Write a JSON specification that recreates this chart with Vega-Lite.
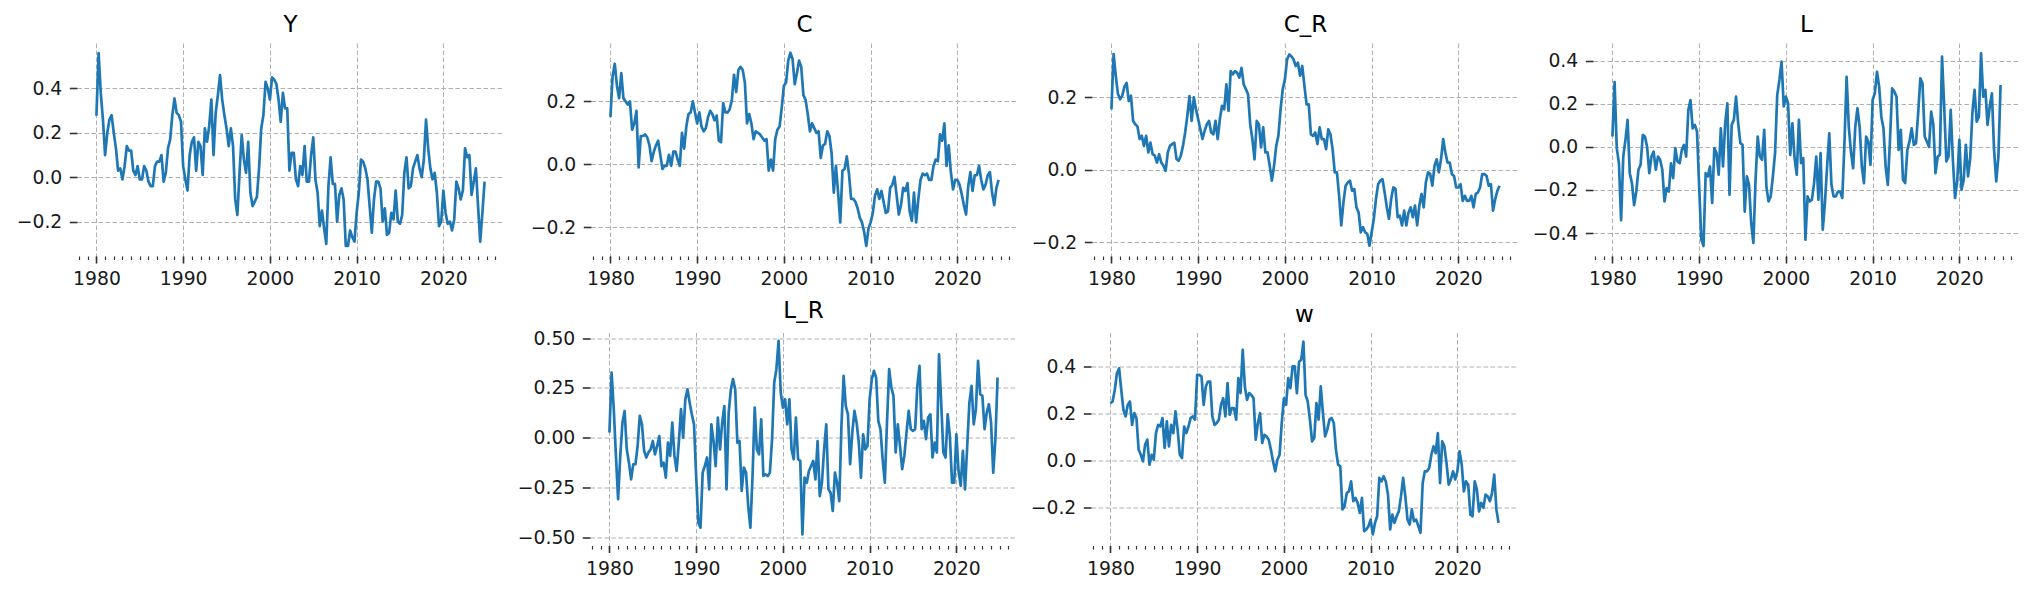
{
"$schema": "https://vega.github.io/schema/vega-lite/v6.json",
"padding": {"left": 15, "top": 14, "right": 5, "bottom": 5},
"autosize": {"type": "pad"},
"background": "white",
"config": {
  "view": {"stroke": null},
  "font": "DejaVu Sans",
  "title": {"font": "DejaVu Sans", "fontSize": 23, "fontWeight": "normal", "color": "#000000", "offset": 6, "frame": "group", "anchor": "middle"},
  "axis": {"domain": false, "labelFont": "DejaVu Sans", "labelFontSize": 18.8, "labelColor": "#1a1a1a", "tickColor": "#333333", "gridColor": "#b0b0b0", "gridDash": [4.5, 2.5], "gridWidth": 1, "gridOpacity": 1, "titleFontSize": 0},
  "axisX": {"labelPadding": 6.5, "labelFlush": false, "labelOverlap": false},
  "axisY": {"tickSize": 7.7, "tickWidth": 1.6, "labelPadding": 7.5, "grid": true, "labelOverlap": false}
},
"datasets": {"d": [
{"t":1980,"Y":0.277,"C":0.15,"C_R":0.167,"L":0.048,"L_R":0.025,"w":0.244},
{"t":1980.25,"Y":0.56,"C":0.28,"C_R":0.32,"L":0.30,"L_R":0.327,"w":0.251},
{"t":1980.5,"Y":0.38,"C":0.32,"C_R":0.26,"L":-0.006,"L_R":0.143,"w":0.30},
{"t":1980.75,"Y":0.26,"C":0.25,"C_R":0.21,"L":-0.076,"L_R":-0.092,"w":0.371},
{"t":1981,"Y":0.10,"C":0.21,"C_R":0.195,"L":-0.34,"L_R":-0.31,"w":0.392},
{"t":1981.25,"Y":0.20,"C":0.29,"C_R":0.205,"L":-0.045,"L_R":-0.092,"w":0.30},
{"t":1981.5,"Y":0.26,"C":0.21,"C_R":0.23,"L":0.032,"L_R":0.075,"w":0.216},
{"t":1981.75,"Y":0.28,"C":0.20,"C_R":0.24,"L":0.125,"L_R":0.134,"w":0.188},
{"t":1982,"Y":0.20,"C":0.19,"C_R":0.19,"L":-0.122,"L_R":-0.059,"w":0.237},
{"t":1982.25,"Y":0.13,"C":0.20,"C_R":0.205,"L":-0.168,"L_R":-0.126,"w":0.251},
{"t":1982.5,"Y":0.03,"C":0.11,"C_R":0.135,"L":-0.27,"L_R":-0.21,"w":0.152},
{"t":1982.75,"Y":0.04,"C":0.13,"C_R":0.126,"L":-0.207,"L_R":-0.134,"w":0.202},
{"t":1983,"Y":-0.01,"C":0.17,"C_R":0.12,"L":-0.106,"L_R":-0.134,"w":0.181},
{"t":1983.25,"Y":0.05,"C":-0.01,"C_R":0.085,"L":-0.083,"L_R":-0.042,"w":0.047},
{"t":1983.5,"Y":0.14,"C":0.09,"C_R":0.094,"L":0.055,"L_R":0.109,"w":0.025},
{"t":1983.75,"Y":0.12,"C":0.09,"C_R":0.066,"L":0.048,"L_R":0.067,"w":-0.003},
{"t":1984,"Y":0.12,"C":0.095,"C_R":0.094,"L":0.0,"L_R":-0.067,"w":0.068},
{"t":1984.25,"Y":0.03,"C":0.085,"C_R":0.048,"L":-0.122,"L_R":-0.10,"w":0.089},
{"t":1984.5,"Y":0.01,"C":0.06,"C_R":0.075,"L":-0.045,"L_R":-0.075,"w":-0.017},
{"t":1984.75,"Y":0.05,"C":0.01,"C_R":0.043,"L":-0.022,"L_R":-0.059,"w":0.025},
{"t":1985,"Y":-0.01,"C":0.04,"C_R":0.039,"L":-0.106,"L_R":-0.017,"w":0.004},
{"t":1985.25,"Y":-0.01,"C":0.06,"C_R":0.02,"L":-0.045,"L_R":-0.084,"w":0.117},
{"t":1985.5,"Y":0.05,"C":0.075,"C_R":0.043,"L":-0.06,"L_R":-0.042,"w":0.152},
{"t":1985.75,"Y":0.03,"C":0.03,"C_R":0.02,"L":-0.106,"L_R":0.008,"w":0.145},
{"t":1986,"Y":-0.02,"C":-0.015,"C_R":0.011,"L":-0.253,"L_R":-0.143,"w":0.181},
{"t":1986.25,"Y":-0.04,"C":-0.005,"C_R":-0.003,"L":-0.191,"L_R":-0.126,"w":0.054},
{"t":1986.5,"Y":-0.04,"C":-0.005,"C_R":0.048,"L":-0.207,"L_R":-0.201,"w":0.167},
{"t":1986.75,"Y":0.05,"C":0.03,"C_R":0.066,"L":-0.076,"L_R":-0.025,"w":0.061},
{"t":1987,"Y":0.07,"C":-0.005,"C_R":0.071,"L":-0.145,"L_R":-0.092,"w":0.152},
{"t":1987.25,"Y":0.07,"C":0.04,"C_R":0.075,"L":-0.006,"L_R":0.075,"w":0.117},
{"t":1987.5,"Y":0.10,"C":0.04,"C_R":0.03,"L":-0.068,"L_R":-0.092,"w":0.209},
{"t":1987.75,"Y":-0.02,"C":0.015,"C_R":0.025,"L":-0.076,"L_R":-0.168,"w":0.131},
{"t":1988,"Y":0.02,"C":-0.005,"C_R":0.039,"L":-0.014,"L_R":-0.025,"w":0.025},
{"t":1988.25,"Y":0.13,"C":0.10,"C_R":0.066,"L":0.009,"L_R":0.143,"w":0.011},
{"t":1988.5,"Y":0.17,"C":0.05,"C_R":0.103,"L":-0.045,"L_R":0.0,"w":0.145},
{"t":1988.75,"Y":0.28,"C":0.12,"C_R":0.149,"L":0.171,"L_R":0.193,"w":0.117},
{"t":1989,"Y":0.355,"C":0.16,"C_R":0.204,"L":0.217,"L_R":0.243,"w":0.145},
{"t":1989.25,"Y":0.29,"C":0.165,"C_R":0.135,"L":0.086,"L_R":0.176,"w":0.181},
{"t":1989.5,"Y":0.28,"C":0.20,"C_R":0.2,"L":0.102,"L_R":0.117,"w":0.188},
{"t":1989.75,"Y":0.25,"C":0.165,"C_R":0.167,"L":0.071,"L_R":0.067,"w":0.174},
{"t":1990,"Y":0.05,"C":0.13,"C_R":0.14,"L":-0.183,"L_R":-0.193,"w":0.364},
{"t":1990.25,"Y":-0.01,"C":0.165,"C_R":0.112,"L":-0.43,"L_R":-0.428,"w":0.364},
{"t":1990.5,"Y":-0.06,"C":0.12,"C_R":0.085,"L":-0.46,"L_R":-0.453,"w":0.357},
{"t":1990.75,"Y":0.10,"C":0.105,"C_R":0.108,"L":-0.122,"L_R":-0.176,"w":0.237},
{"t":1991,"Y":0.16,"C":0.115,"C_R":0.126,"L":-0.137,"L_R":-0.143,"w":0.315},
{"t":1991.25,"Y":0.18,"C":0.15,"C_R":0.135,"L":-0.091,"L_R":-0.10,"w":0.336},
{"t":1991.5,"Y":0.03,"C":0.17,"C_R":0.103,"L":-0.26,"L_R":-0.26,"w":0.336},
{"t":1991.75,"Y":0.16,"C":0.16,"C_R":0.098,"L":-0.006,"L_R":0.067,"w":0.188},
{"t":1992,"Y":0.14,"C":0.14,"C_R":0.135,"L":-0.029,"L_R":-0.017,"w":0.152},
{"t":1992.25,"Y":0.01,"C":0.155,"C_R":0.085,"L":-0.129,"L_R":-0.143,"w":0.16},
{"t":1992.5,"Y":0.22,"C":0.075,"C_R":0.14,"L":0.086,"L_R":0.101,"w":0.174},
{"t":1992.75,"Y":0.16,"C":0.07,"C_R":0.177,"L":-0.091,"L_R":-0.059,"w":0.237},
{"t":1993,"Y":0.23,"C":0.195,"C_R":0.167,"L":0.109,"L_R":0.075,"w":0.265},
{"t":1993.25,"Y":0.35,"C":0.165,"C_R":0.236,"L":0.202,"L_R":0.159,"w":0.188},
{"t":1993.5,"Y":0.10,"C":0.165,"C_R":0.163,"L":-0.222,"L_R":-0.26,"w":0.329},
{"t":1993.75,"Y":0.29,"C":0.175,"C_R":0.273,"L":0.102,"L_R":0.126,"w":0.195},
{"t":1994,"Y":0.37,"C":0.205,"C_R":0.264,"L":0.125,"L_R":0.243,"w":0.223},
{"t":1994.25,"Y":0.46,"C":0.285,"C_R":0.273,"L":0.233,"L_R":0.294,"w":0.223},
{"t":1994.5,"Y":0.35,"C":0.23,"C_R":0.268,"L":0.109,"L_R":0.243,"w":0.174},
{"t":1994.75,"Y":0.28,"C":0.30,"C_R":0.255,"L":0.017,"L_R":-0.025,"w":0.35},
{"t":1995,"Y":0.22,"C":0.31,"C_R":0.282,"L":0.009,"L_R":-0.017,"w":0.287},
{"t":1995.25,"Y":0.14,"C":0.30,"C_R":0.236,"L":-0.30,"L_R":-0.268,"w":0.47},
{"t":1995.5,"Y":0.22,"C":0.26,"C_R":0.223,"L":-0.137,"L_R":-0.151,"w":0.315},
{"t":1995.75,"Y":0.14,"C":0.13,"C_R":0.209,"L":-0.176,"L_R":-0.176,"w":0.258},
{"t":1996,"Y":-0.10,"C":0.16,"C_R":0.126,"L":-0.353,"L_R":-0.344,"w":0.287},
{"t":1996.25,"Y":-0.17,"C":0.13,"C_R":0.085,"L":-0.445,"L_R":-0.453,"w":0.279},
{"t":1996.5,"Y":0.02,"C":0.08,"C_R":0.029,"L":-0.153,"L_R":-0.193,"w":0.265},
{"t":1996.75,"Y":0.19,"C":0.105,"C_R":0.135,"L":0.048,"L_R":0.151,"w":0.089},
{"t":1997,"Y":0.08,"C":0.10,"C_R":0.126,"L":-0.045,"L_R":-0.059,"w":0.16},
{"t":1997.25,"Y":0.02,"C":0.095,"C_R":0.062,"L":-0.06,"L_R":-0.084,"w":0.202},
{"t":1997.5,"Y":0.16,"C":0.085,"C_R":0.117,"L":0.079,"L_R":0.092,"w":0.075},
{"t":1997.75,"Y":-0.07,"C":0.075,"C_R":0.048,"L":-0.183,"L_R":-0.193,"w":0.11},
{"t":1998,"Y":-0.13,"C":0.08,"C_R":0.048,"L":-0.253,"L_R":-0.185,"w":0.103},
{"t":1998.25,"Y":-0.11,"C":-0.02,"C_R":0.011,"L":-0.23,"L_R":-0.193,"w":0.089},
{"t":1998.5,"Y":-0.09,"C":0.015,"C_R":-0.03,"L":-0.137,"L_R":-0.176,"w":0.047},
{"t":1998.75,"Y":0.04,"C":-0.02,"C_R":0.011,"L":-0.029,"L_R":-0.008,"w":-0.003},
{"t":1999,"Y":0.22,"C":0.08,"C_R":0.066,"L":0.24,"L_R":0.277,"w":-0.045},
{"t":1999.25,"Y":0.28,"C":0.11,"C_R":0.094,"L":0.31,"L_R":0.344,"w":0.004},
{"t":1999.5,"Y":0.43,"C":0.12,"C_R":0.167,"L":0.395,"L_R":0.487,"w":0.025},
{"t":1999.75,"Y":0.40,"C":0.18,"C_R":0.223,"L":0.187,"L_R":0.227,"w":0.16},
{"t":2000,"Y":0.35,"C":0.25,"C_R":0.25,"L":0.233,"L_R":0.151,"w":0.265},
{"t":2000.25,"Y":0.45,"C":0.26,"C_R":0.305,"L":0.202,"L_R":0.193,"w":0.237},
{"t":2000.5,"Y":0.44,"C":0.33,"C_R":0.319,"L":-0.037,"L_R":0.067,"w":0.35},
{"t":2000.75,"Y":0.42,"C":0.355,"C_R":0.314,"L":0.109,"L_R":0.193,"w":0.308},
{"t":2001,"Y":0.35,"C":0.335,"C_R":0.305,"L":-0.052,"L_R":-0.059,"w":0.40},
{"t":2001.25,"Y":0.25,"C":0.255,"C_R":0.287,"L":-0.129,"L_R":-0.109,"w":0.40},
{"t":2001.5,"Y":0.38,"C":0.29,"C_R":0.296,"L":0.125,"L_R":0.101,"w":0.287},
{"t":2001.75,"Y":0.31,"C":0.33,"C_R":0.26,"L":-0.076,"L_R":-0.109,"w":0.42},
{"t":2002,"Y":0.31,"C":0.31,"C_R":0.287,"L":-0.052,"L_R":-0.117,"w":0.428},
{"t":2002.25,"Y":0.03,"C":0.22,"C_R":0.232,"L":-0.43,"L_R":-0.487,"w":0.505},
{"t":2002.5,"Y":0.11,"C":0.205,"C_R":0.181,"L":-0.23,"L_R":-0.201,"w":0.279},
{"t":2002.75,"Y":0.11,"C":0.16,"C_R":0.181,"L":-0.253,"L_R":-0.227,"w":0.251},
{"t":2003,"Y":-0.01,"C":0.105,"C_R":0.098,"L":-0.245,"L_R":-0.168,"w":0.174},
{"t":2003.25,"Y":-0.04,"C":0.13,"C_R":0.094,"L":-0.168,"L_R":-0.143,"w":0.082},
{"t":2003.5,"Y":0.05,"C":0.115,"C_R":0.103,"L":-0.045,"L_R":-0.117,"w":0.096},
{"t":2003.75,"Y":0.01,"C":0.10,"C_R":0.071,"L":-0.245,"L_R":-0.21,"w":0.244},
{"t":2004,"Y":0.14,"C":0.105,"C_R":0.117,"L":-0.029,"L_R":-0.017,"w":0.174},
{"t":2004.25,"Y":-0.02,"C":0.02,"C_R":0.085,"L":-0.384,"L_R":-0.294,"w":0.315},
{"t":2004.5,"Y":-0.02,"C":0.06,"C_R":0.085,"L":-0.26,"L_R":-0.227,"w":0.202},
{"t":2004.75,"Y":0.10,"C":0.065,"C_R":0.057,"L":-0.091,"L_R":-0.059,"w":0.103},
{"t":2005,"Y":0.18,"C":0.105,"C_R":0.112,"L":0.063,"L_R":0.067,"w":0.131},
{"t":2005.25,"Y":-0.01,"C":0.09,"C_R":0.098,"L":-0.176,"L_R":-0.26,"w":0.174},
{"t":2005.5,"Y":-0.07,"C":0.035,"C_R":0.057,"L":-0.23,"L_R":-0.277,"w":0.181},
{"t":2005.75,"Y":-0.22,"C":-0.09,"C_R":-0.007,"L":-0.23,"L_R":-0.369,"w":0.16},
{"t":2006,"Y":-0.15,"C":-0.005,"C_R":-0.007,"L":-0.207,"L_R":-0.176,"w":0.047},
{"t":2006.25,"Y":-0.23,"C":-0.09,"C_R":-0.072,"L":-0.207,"L_R":-0.227,"w":-0.017},
{"t":2006.5,"Y":-0.30,"C":-0.185,"C_R":-0.154,"L":-0.237,"L_R":-0.319,"w":-0.024},
{"t":2006.75,"Y":-0.04,"C":-0.02,"C_R":-0.09,"L":0.017,"L_R":0.059,"w":-0.207},
{"t":2007,"Y":0.09,"C":-0.015,"C_R":-0.044,"L":0.325,"L_R":0.31,"w":-0.193},
{"t":2007.25,"Y":-0.03,"C":0.025,"C_R":-0.035,"L":0.094,"L_R":0.159,"w":-0.137},
{"t":2007.5,"Y":-0.03,"C":-0.03,"C_R":-0.03,"L":-0.022,"L_R":0.117,"w":-0.13},
{"t":2007.75,"Y":-0.20,"C":-0.11,"C_R":-0.058,"L":-0.099,"L_R":-0.134,"w":-0.088},
{"t":2008,"Y":-0.08,"C":-0.11,"C_R":-0.053,"L":0.094,"L_R":0.025,"w":-0.172},
{"t":2008.25,"Y":-0.05,"C":-0.12,"C_R":-0.104,"L":0.179,"L_R":0.134,"w":-0.158},
{"t":2008.5,"Y":-0.10,"C":-0.14,"C_R":-0.118,"L":0.094,"L_R":0.075,"w":-0.179},
{"t":2008.75,"Y":-0.31,"C":-0.17,"C_R":-0.173,"L":-0.091,"L_R":-0.025,"w":-0.222},
{"t":2009,"Y":-0.31,"C":-0.185,"C_R":-0.159,"L":-0.168,"L_R":-0.201,"w":-0.158},
{"t":2009.25,"Y":-0.24,"C":-0.215,"C_R":-0.173,"L":0.048,"L_R":0.017,"w":-0.299},
{"t":2009.5,"Y":-0.27,"C":-0.26,"C_R":-0.177,"L":0.025,"L_R":-0.059,"w":-0.292},
{"t":2009.75,"Y":-0.29,"C":-0.205,"C_R":-0.21,"L":-0.083,"L_R":-0.042,"w":-0.278},
{"t":2010,"Y":-0.16,"C":-0.185,"C_R":-0.173,"L":0.217,"L_R":0.193,"w":-0.25},
{"t":2010.25,"Y":-0.07,"C":-0.155,"C_R":-0.136,"L":0.248,"L_R":0.294,"w":-0.313},
{"t":2010.5,"Y":0.08,"C":-0.10,"C_R":-0.081,"L":0.348,"L_R":0.336,"w":-0.264},
{"t":2010.75,"Y":0.07,"C":-0.08,"C_R":-0.04,"L":0.279,"L_R":0.302,"w":-0.236},
{"t":2011,"Y":0.04,"C":-0.11,"C_R":-0.03,"L":0.14,"L_R":0.084,"w":-0.073},
{"t":2011.25,"Y":-0.01,"C":-0.085,"C_R":-0.026,"L":0.086,"L_R":0.042,"w":-0.088},
{"t":2011.5,"Y":-0.13,"C":-0.12,"C_R":-0.063,"L":-0.091,"L_R":-0.109,"w":-0.066},
{"t":2011.75,"Y":-0.25,"C":-0.155,"C_R":-0.104,"L":-0.176,"L_R":-0.227,"w":-0.088},
{"t":2012,"Y":-0.10,"C":-0.15,"C_R":-0.136,"L":0.032,"L_R":0.075,"w":-0.144},
{"t":2012.25,"Y":-0.02,"C":-0.075,"C_R":-0.081,"L":0.271,"L_R":0.344,"w":-0.292},
{"t":2012.5,"Y":-0.02,"C":-0.065,"C_R":-0.049,"L":0.256,"L_R":0.252,"w":-0.229},
{"t":2012.75,"Y":-0.05,"C":-0.04,"C_R":-0.053,"L":0.233,"L_R":0.21,"w":-0.264},
{"t":2013,"Y":-0.20,"C":-0.10,"C_R":-0.131,"L":-0.014,"L_R":-0.075,"w":-0.236},
{"t":2013.25,"Y":-0.14,"C":-0.16,"C_R":-0.127,"L":0.079,"L_R":0.067,"w":-0.215},
{"t":2013.5,"Y":-0.26,"C":-0.13,"C_R":-0.154,"L":-0.153,"L_R":-0.042,"w":-0.151},
{"t":2013.75,"Y":-0.25,"C":-0.075,"C_R":-0.113,"L":-0.168,"L_R":-0.159,"w":-0.073},
{"t":2014,"Y":-0.16,"C":-0.085,"C_R":-0.154,"L":-0.014,"L_R":-0.092,"w":-0.151},
{"t":2014.25,"Y":-0.19,"C":-0.06,"C_R":-0.118,"L":0.025,"L_R":0.025,"w":-0.25},
{"t":2014.5,"Y":-0.06,"C":-0.15,"C_R":-0.104,"L":0.086,"L_R":0.134,"w":-0.271},
{"t":2014.75,"Y":-0.20,"C":-0.18,"C_R":-0.131,"L":0.009,"L_R":0.042,"w":-0.207},
{"t":2015,"Y":-0.21,"C":-0.09,"C_R":-0.099,"L":0.017,"L_R":0.034,"w":-0.257},
{"t":2015.25,"Y":-0.17,"C":-0.185,"C_R":-0.154,"L":0.156,"L_R":0.042,"w":-0.25},
{"t":2015.5,"Y":0.02,"C":-0.11,"C_R":-0.099,"L":0.318,"L_R":0.26,"w":-0.278},
{"t":2015.75,"Y":0.09,"C":-0.05,"C_R":-0.067,"L":0.294,"L_R":0.361,"w":-0.306},
{"t":2016,"Y":-0.05,"C":-0.03,"C_R":-0.104,"L":0.048,"L_R":0.042,"w":-0.095},
{"t":2016.25,"Y":-0.04,"C":-0.035,"C_R":-0.035,"L":0.025,"L_R":0.084,"w":-0.045},
{"t":2016.5,"Y":0.04,"C":-0.03,"C_R":-0.007,"L":0.0,"L_R":-0.008,"w":-0.045},
{"t":2016.75,"Y":0.07,"C":-0.05,"C_R":-0.012,"L":0.163,"L_R":0.101,"w":-0.031},
{"t":2017,"Y":0.10,"C":-0.05,"C_R":-0.044,"L":0.102,"L_R":0.117,"w":0.025},
{"t":2017.25,"Y":0.04,"C":-0.005,"C_R":0.011,"L":-0.122,"L_R":-0.10,"w":0.061},
{"t":2017.5,"Y":0.00,"C":0.015,"C_R":0.029,"L":-0.045,"L_R":-0.025,"w":0.032},
{"t":2017.75,"Y":0.08,"C":0.01,"C_R":-0.007,"L":-0.037,"L_R":-0.075,"w":0.117},
{"t":2018,"Y":0.26,"C":0.095,"C_R":0.029,"L":0.418,"L_R":0.419,"w":-0.095},
{"t":2018.25,"Y":0.13,"C":0.075,"C_R":0.085,"L":0.187,"L_R":0.176,"w":0.082},
{"t":2018.5,"Y":0.04,"C":0.13,"C_R":0.048,"L":-0.068,"L_R":-0.075,"w":0.061},
{"t":2018.75,"Y":-0.01,"C":-0.005,"C_R":0.02,"L":-0.045,"L_R":-0.10,"w":-0.01},
{"t":2019,"Y":0.02,"C":0.06,"C_R":0.02,"L":0.171,"L_R":0.117,"w":-0.102},
{"t":2019.25,"Y":-0.07,"C":-0.025,"C_R":-0.012,"L":-0.06,"L_R":0.008,"w":-0.08},
{"t":2019.5,"Y":-0.22,"C":-0.08,"C_R":-0.017,"L":-0.237,"L_R":-0.227,"w":-0.045},
{"t":2019.75,"Y":-0.20,"C":-0.05,"C_R":-0.049,"L":-0.16,"L_R":-0.227,"w":-0.08},
{"t":2020,"Y":-0.06,"C":-0.05,"C_R":-0.049,"L":0.032,"L_R":0.017,"w":-0.045},
{"t":2020.25,"Y":-0.16,"C":-0.065,"C_R":-0.04,"L":-0.199,"L_R":-0.168,"w":0.04},
{"t":2020.5,"Y":-0.21,"C":-0.095,"C_R":-0.086,"L":-0.153,"L_R":-0.243,"w":-0.017},
{"t":2020.75,"Y":-0.20,"C":-0.13,"C_R":-0.072,"L":0.009,"L_R":-0.067,"w":-0.13},
{"t":2021,"Y":-0.24,"C":-0.16,"C_R":-0.086,"L":-0.137,"L_R":-0.26,"w":-0.088},
{"t":2021.25,"Y":-0.19,"C":-0.07,"C_R":-0.086,"L":-0.052,"L_R":-0.042,"w":-0.102},
{"t":2021.5,"Y":-0.02,"C":-0.025,"C_R":-0.072,"L":0.156,"L_R":0.176,"w":-0.229},
{"t":2021.75,"Y":-0.05,"C":-0.085,"C_R":-0.104,"L":0.264,"L_R":0.26,"w":-0.236},
{"t":2022,"Y":-0.10,"C":-0.035,"C_R":-0.067,"L":0.117,"L_R":0.067,"w":-0.088},
{"t":2022.25,"Y":-0.06,"C":-0.035,"C_R":-0.063,"L":0.14,"L_R":0.143,"w":-0.123},
{"t":2022.5,"Y":0.13,"C":-0.005,"C_R":-0.049,"L":0.433,"L_R":0.386,"w":-0.215},
{"t":2022.75,"Y":0.09,"C":-0.05,"C_R":-0.012,"L":0.233,"L_R":0.218,"w":-0.179},
{"t":2023,"Y":0.10,"C":-0.08,"C_R":-0.012,"L":0.264,"L_R":0.21,"w":-0.2},
{"t":2023.25,"Y":-0.08,"C":-0.065,"C_R":-0.017,"L":0.102,"L_R":0.042,"w":-0.144},
{"t":2023.5,"Y":-0.02,"C":-0.035,"C_R":-0.044,"L":0.187,"L_R":0.126,"w":-0.151},
{"t":2023.75,"Y":0.04,"C":-0.025,"C_R":-0.04,"L":0.248,"L_R":0.168,"w":-0.172},
{"t":2024,"Y":-0.13,"C":-0.09,"C_R":-0.113,"L":-0.014,"L_R":0.075,"w":-0.137},
{"t":2024.25,"Y":-0.29,"C":-0.13,"C_R":-0.081,"L":-0.16,"L_R":-0.176,"w":-0.059},
{"t":2024.5,"Y":-0.16,"C":-0.075,"C_R":-0.058,"L":-0.045,"L_R":-0.008,"w":-0.207},
{"t":2024.75,"Y":-0.02,"C":-0.05,"C_R":-0.044,"L":0.287,"L_R":0.302,"w":-0.264}
]},
"spacing": 10.5,
"vconcat": [
{"spacing": 10, "hconcat": [
 {"width": 427, "height": 213, "title": "Y", "data": {"name": "d"},
  "encoding": {"y": {"field": "Y", "type": "quantitative", "scale": {"domain": [-0.355, 0.605], "nice": false, "zero": false}, "axis": {"values": [-0.2, 0, 0.2, 0.4], "format": ".1f", "minExtent": 62, "title": null}}},
  "layer": [
   {"mark": {"type": "line", "color": "#1f77b4", "strokeWidth": 2.7, "strokeJoin": "round"},
    "encoding": {"x": {"field": "t", "type": "quantitative", "scale": {"domain": [1977.76, 2026.99], "nice": false, "zero": false}, "axis": {"values": [1980, 1990, 2000, 2010, 2020], "format": "d", "orient": "bottom", "title": null, "grid": true, "tickSize": 7, "tickWidth": 1.6}}}},
   {"mark": {"type": "line", "opacity": 0},
    "encoding": {"x": {"field": "t", "type": "quantitative", "axis": {"values": [1978,1979,1980,1981,1982,1983,1984,1985,1986,1987,1988,1989,1990,1991,1992,1993,1994,1995,1996,1997,1998,1999,2000,2001,2002,2003,2004,2005,2006,2007,2008,2009,2010,2011,2012,2013,2014,2015,2016,2017,2018,2019,2020,2021,2022,2023,2024,2025,2026], "orient": "bottom", "title": null, "grid": false, "labels": false, "tickSize": 3.5, "tickWidth": 1.2}}}}
  ],
  "resolve": {"axis": {"x": "independent"}}},
 {"width": 427, "height": 213, "title": "C", "data": {"name": "d"},
  "encoding": {"y": {"field": "C", "type": "quantitative", "scale": {"domain": [-0.292, 0.386], "nice": false, "zero": false}, "axis": {"values": [-0.2, 0, 0.2], "format": ".1f", "minExtent": 77, "title": null}}},
  "layer": [
   {"mark": {"type": "line", "color": "#1f77b4", "strokeWidth": 2.7, "strokeJoin": "round"},
    "encoding": {"x": {"field": "t", "type": "quantitative", "scale": {"domain": [1977.76, 2026.99], "nice": false, "zero": false}, "axis": {"values": [1980, 1990, 2000, 2010, 2020], "format": "d", "orient": "bottom", "title": null, "grid": true, "tickSize": 7, "tickWidth": 1.6}}}},
   {"mark": {"type": "line", "opacity": 0},
    "encoding": {"x": {"field": "t", "type": "quantitative", "axis": {"values": [1978,1979,1980,1981,1982,1983,1984,1985,1986,1987,1988,1989,1990,1991,1992,1993,1994,1995,1996,1997,1998,1999,2000,2001,2002,2003,2004,2005,2006,2007,2008,2009,2010,2011,2012,2013,2014,2015,2016,2017,2018,2019,2020,2021,2022,2023,2024,2025,2026], "orient": "bottom", "title": null, "grid": false, "labels": false, "tickSize": 3.5, "tickWidth": 1.2}}}}
  ],
  "resolve": {"axis": {"x": "independent"}}},
 {"width": 427, "height": 213, "title": "C_R", "data": {"name": "d"},
  "encoding": {"y": {"field": "C_R", "type": "quantitative", "scale": {"domain": [-0.2385, 0.3506], "nice": false, "zero": false}, "axis": {"values": [-0.2, 0, 0.2], "format": ".1f", "minExtent": 64, "title": null}}},
  "layer": [
   {"mark": {"type": "line", "color": "#1f77b4", "strokeWidth": 2.7, "strokeJoin": "round"},
    "encoding": {"x": {"field": "t", "type": "quantitative", "scale": {"domain": [1977.76, 2026.99], "nice": false, "zero": false}, "axis": {"values": [1980, 1990, 2000, 2010, 2020], "format": "d", "orient": "bottom", "title": null, "grid": true, "tickSize": 7, "tickWidth": 1.6}}}},
   {"mark": {"type": "line", "opacity": 0},
    "encoding": {"x": {"field": "t", "type": "quantitative", "axis": {"values": [1978,1979,1980,1981,1982,1983,1984,1985,1986,1987,1988,1989,1990,1991,1992,1993,1994,1995,1996,1997,1998,1999,2000,2001,2002,2003,2004,2005,2006,2007,2008,2009,2010,2011,2012,2013,2014,2015,2016,2017,2018,2019,2020,2021,2022,2023,2024,2025,2026], "orient": "bottom", "title": null, "grid": false, "labels": false, "tickSize": 3.5, "tickWidth": 1.2}}}}
  ],
  "resolve": {"axis": {"x": "independent"}}},
 {"width": 427, "height": 213, "title": "L", "data": {"name": "d"},
  "encoding": {"y": {"field": "L", "type": "quantitative", "scale": {"domain": [-0.506, 0.4814], "nice": false, "zero": false}, "axis": {"values": [-0.4, -0.2, 0, 0.2, 0.4], "format": ".1f", "minExtent": 64, "title": null}}},
  "layer": [
   {"mark": {"type": "line", "color": "#1f77b4", "strokeWidth": 2.7, "strokeJoin": "round"},
    "encoding": {"x": {"field": "t", "type": "quantitative", "scale": {"domain": [1977.76, 2026.99], "nice": false, "zero": false}, "axis": {"values": [1980, 1990, 2000, 2010, 2020], "format": "d", "orient": "bottom", "title": null, "grid": true, "tickSize": 7, "tickWidth": 1.6}}}},
   {"mark": {"type": "line", "opacity": 0},
    "encoding": {"x": {"field": "t", "type": "quantitative", "axis": {"values": [1978,1979,1980,1981,1982,1983,1984,1985,1986,1987,1988,1989,1990,1991,1992,1993,1994,1995,1996,1997,1998,1999,2000,2001,2002,2003,2004,2005,2006,2007,2008,2009,2010,2011,2012,2013,2014,2015,2016,2017,2018,2019,2020,2021,2022,2023,2024,2025,2026], "orient": "bottom", "title": null, "grid": false, "labels": false, "tickSize": 3.5, "tickWidth": 1.2}}}}
  ],
  "resolve": {"axis": {"x": "independent"}}}
]},
{"spacing": 10, "hconcat": [
 {"width": 426, "height": 213, "data": {"values": []}, "mark": "point"},
 {"width": 427, "height": 213, "title": "L_R", "data": {"name": "d"},
  "encoding": {"y": {"field": "L_R", "type": "quantitative", "scale": {"domain": [-0.5426, 0.5286], "nice": false, "zero": false}, "axis": {"values": [-0.5, -0.25, 0, 0.25, 0.5], "format": ".2f", "minExtent": 77, "title": null}}},
  "layer": [
   {"mark": {"type": "line", "color": "#1f77b4", "strokeWidth": 2.7, "strokeJoin": "round"},
    "encoding": {"x": {"field": "t", "type": "quantitative", "scale": {"domain": [1977.76, 2026.99], "nice": false, "zero": false}, "axis": {"values": [1980, 1990, 2000, 2010, 2020], "format": "d", "orient": "bottom", "title": null, "grid": true, "tickSize": 7, "tickWidth": 1.6}}}},
   {"mark": {"type": "line", "opacity": 0},
    "encoding": {"x": {"field": "t", "type": "quantitative", "axis": {"values": [1978,1979,1980,1981,1982,1983,1984,1985,1986,1987,1988,1989,1990,1991,1992,1993,1994,1995,1996,1997,1998,1999,2000,2001,2002,2003,2004,2005,2006,2007,2008,2009,2010,2011,2012,2013,2014,2015,2016,2017,2018,2019,2020,2021,2022,2023,2024,2025,2026], "orient": "bottom", "title": null, "grid": false, "labels": false, "tickSize": 3.5, "tickWidth": 1.2}}}}
  ],
  "resolve": {"axis": {"x": "independent"}}},
 {"width": 427, "height": 213, "title": "w", "data": {"name": "d"},
  "encoding": {"y": {"field": "w", "type": "quantitative", "scale": {"domain": [-0.36, 0.544], "nice": false, "zero": false}, "axis": {"values": [-0.2, 0, 0.2, 0.4], "format": ".1f", "minExtent": 64, "title": null}}},
  "layer": [
   {"mark": {"type": "line", "color": "#1f77b4", "strokeWidth": 2.7, "strokeJoin": "round"},
    "encoding": {"x": {"field": "t", "type": "quantitative", "scale": {"domain": [1977.76, 2026.99], "nice": false, "zero": false}, "axis": {"values": [1980, 1990, 2000, 2010, 2020], "format": "d", "orient": "bottom", "title": null, "grid": true, "tickSize": 7, "tickWidth": 1.6}}}},
   {"mark": {"type": "line", "opacity": 0},
    "encoding": {"x": {"field": "t", "type": "quantitative", "axis": {"values": [1978,1979,1980,1981,1982,1983,1984,1985,1986,1987,1988,1989,1990,1991,1992,1993,1994,1995,1996,1997,1998,1999,2000,2001,2002,2003,2004,2005,2006,2007,2008,2009,2010,2011,2012,2013,2014,2015,2016,2017,2018,2019,2020,2021,2022,2023,2024,2025,2026], "orient": "bottom", "title": null, "grid": false, "labels": false, "tickSize": 3.5, "tickWidth": 1.2}}}}
  ],
  "resolve": {"axis": {"x": "independent"}}}
]}
]
}
